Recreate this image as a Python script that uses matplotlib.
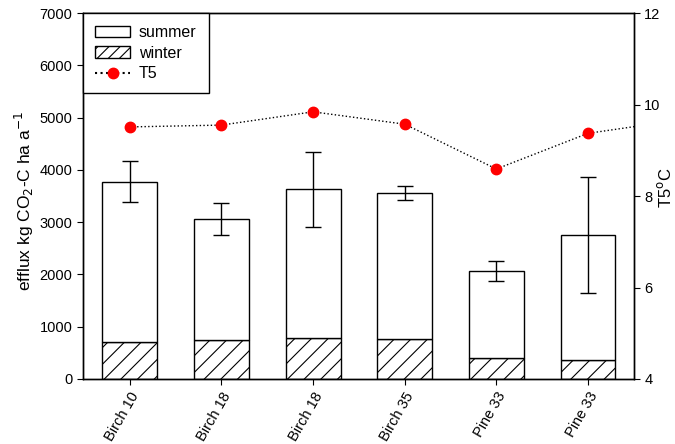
import matplotlib
matplotlib.use("Agg")
import matplotlib.pyplot as plt
import numpy as np
from matplotlib.patches import Patch
from matplotlib.lines import Line2D

plt.rcParams['font.family'] = ['Liberation Sans', 'DejaVu Sans']
plt.rcParams['hatch.linewidth'] = 0.8

categories = ["Birch 10", "Birch 18", "Birch 18", "Birch 35", "Pine 33", "Pine 33"]
total_efflux = [3770, 3060, 3630, 3560, 2065, 2755]
winter_efflux = [710, 750, 790, 765, 405, 360]
total_err = [390, 305, 715, 140, 200, 1110]
# T5 series continues past the last plotted category (clipped at right axis)
t5 = [9.51, 9.55, 9.84, 9.57, 8.59, 9.37, 9.66]

x = np.arange(len(categories))
summer_efflux = np.array(total_efflux) - np.array(winter_efflux)

fig = plt.figure(figsize=(6.75, 4.44), dpi=100)
ax = fig.add_axes([0.123, 0.1464, 0.816, 0.8243])

w = 0.6
ax.bar(x, winter_efflux, width=w, facecolor='white', edgecolor='black',
       linewidth=1.0, hatch='//', zorder=2)
ax.bar(x, summer_efflux, width=w, bottom=winter_efflux, facecolor='white',
       edgecolor='black', linewidth=1.0, zorder=2)
ax.errorbar(x, total_efflux, yerr=total_err, fmt='none', ecolor='black',
            elinewidth=1.0, capsize=6, capthick=1.0, zorder=3)

ax.set_xlim(-0.51, 5.5)
ax.set_ylim(0, 7000)
ax.set_yticks(np.arange(0, 7001, 1000))
ax.set_xticks(x)
ax.set_xticklabels(categories, rotation=60, ha='right', rotation_mode='anchor',
                   fontsize=10.5)
ax.tick_params(axis='y', labelsize=10.5, direction='out', length=4)
ax.tick_params(axis='x', direction='out', length=4)
ax.set_ylabel("efflux kg CO$_2$-C ha a$^{-1}$", fontsize=12.5, labelpad=3)
ax.yaxis.label.set_y(0.486)

ax2 = ax.twinx()
ax2.plot(np.arange(len(t5)), t5, linestyle=':', color='black', linewidth=1.0,
         marker='o', markersize=7.5, markerfacecolor='red',
         markeredgecolor='red', zorder=4)
ax2.set_ylim(4, 12)
ax2.set_yticks([4, 6, 8, 10, 12])
ax2.tick_params(axis='y', labelsize=10.5, direction='out', length=4)
ax2.set_ylabel("T5$^{\\rm o}$C", fontsize=12, labelpad=-3)
ax2.yaxis.label.set_y(0.522)
ax2.set_xlim(-0.51, 5.5)

for a in (ax, ax2):
    for s in a.spines.values():
        s.set_linewidth(1.0)

handles = [Patch(facecolor='white', edgecolor='black', label='summer'),
           Patch(facecolor='white', edgecolor='black', hatch='///', label='winter'),
           Line2D([0], [0], linestyle=':', color='black', marker='o',
                  markersize=7.5, markerfacecolor='red', markeredgecolor='red',
                  label='T5')]
leg = ax2.legend(handles=handles, loc='upper left', borderaxespad=0,
                 fontsize=11.5, frameon=True, fancybox=False, framealpha=1,
                 edgecolor='black', handlelength=2.2, handletextpad=0.55,
                 borderpad=0.75, labelspacing=0.35)
leg.get_frame().set_linewidth(1.0)

fig.savefig("out.png", dpi=100)
